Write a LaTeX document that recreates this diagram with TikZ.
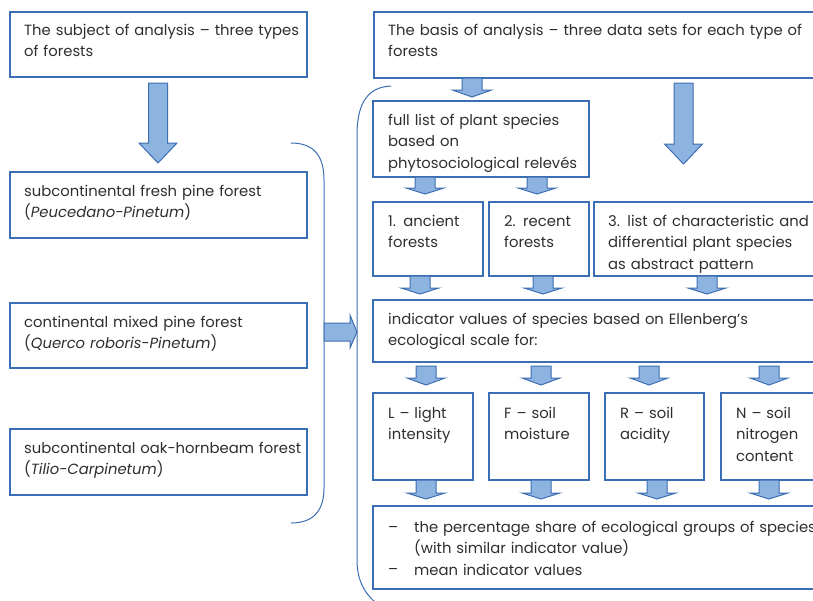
\documentclass[tikz,border=0pt]{standalone}
\usepackage{fontspec}
\setmainfont{Poppins}
\definecolor{boxblue}{HTML}{3A6EB5}
\definecolor{arrfill}{HTML}{8DB3E0}
\definecolor{arredge}{HTML}{3D6EB2}
\definecolor{txt}{HTML}{2E2E2E}
\tikzset{
  boxed/.style={draw=boxblue, line width=1.1pt},
  arr/.style={draw=arredge, fill=arrfill, line width=1pt, line join=miter},
  brk/.style={draw=boxblue, line width=1pt},
  lbl/.style={anchor=base west, inner sep=0pt, text width=460pt, align=left, text=txt,
    font=\fontsize{14.8}{21.5}\selectfont},
}
% block arrow pointing down: centre x, top y, head start y, tip y, half shaft, half head
\newcommand\blockdown[6]{%
  \draw[arr] ({#1-#5},#2) -- ({#1+#5},#2) -- ({#1+#5},#3) -- ({#1+#6},#3) -- (#1,#4)
    -- ({#1-#6},#3) -- ({#1-#5},#3) -- cycle;}
\begin{document}
\begin{tikzpicture}[x=1pt,y=-1pt]
\useasboundingbox (0,0) rectangle (813,600);
\clip (0,0) rectangle (813,600);
% left column
\draw[boxed] (10,12) rectangle (307,77);
\node[lbl] (ta) at (24,35) {The subject of analysis – three types\\of forests};
\blockdown{158}{83}{143}{163}{9.5}{19}
\draw[boxed] (10,172) rectangle (307,238);
\node[lbl] (t1) at (24,196) {subcontinental fresh pine forest\\(\textit{Peucedano-Pinetum})};
\draw[boxed] (10,303) rectangle (307,368);
\node[lbl] (t2) at (24,327) {continental mixed pine forest\\(\textit{Querco roboris-Pinetum})};
\draw[boxed] (10,429) rectangle (307,495);
\node[lbl] (t3) at (24,453) {subcontinental oak-hornbeam forest\\(\textit{Tilio-Carpinetum})};
% left bracket
\draw[brk] (291,143) .. controls (314,143) and (324,156) .. (324,180) -- (324,488)
  .. controls (324,510) and (314,523) .. (291,523);
% right arrow
\draw[arr] (324,323) -- (350,323) -- (350,315) -- (357,332) -- (350,348) -- (350,341) -- (324,341) -- cycle;
% right bracket
\draw[brk] (391,86) .. controls (370,87) and (357,100) .. (357,135) -- (357,560)
  .. controls (357,582) and (366,596) .. (380,606);
% right column
\draw[boxed] (374,12) rectangle (830,78);
\node[lbl] (tb) at (388,35) {The basis of analysis – three data sets for each type of\\forests};
\blockdown{472}{78}{90}{97}{10}{19.5}
\blockdown{683.5}{83}{144}{164}{9.5}{19}
\draw[boxed] (373,101) rectangle (589,177);
\node[lbl] (tf) at (388,125) {full list of plant species\\based on\\phytosociological relevés};
\blockdown{425}{177}{188}{194}{10}{19}
\blockdown{537}{177}{188}{194}{10}{19}
\draw[boxed] (373,202) rectangle (483,276);
\node[lbl] (r1) at (388,226) {1. ancient\\forests};
\draw[boxed] (489,202) rectangle (589,276);
\node[lbl] (r2) at (504,226) {2. recent\\forests};
\draw[boxed] (594,202) rectangle (830,276);
\node[lbl] (r3) at (608,226) {3. list of characteristic and\\differential plant species\\as abstract pattern};
\blockdown{420}{276}{288}{294}{10}{19}
\blockdown{543}{276}{288}{294}{10}{19}
\blockdown{707}{276}{288}{294}{10}{19}
\draw[boxed] (373,300) rectangle (830,362);
\node[lbl] (ti) at (388,324) {indicator values of species based on Ellenberg’s\\ecological scale for:};
\blockdown{426}{366}{378}{385}{10}{19}
\blockdown{541}{366}{378}{385}{10}{19}
\blockdown{649}{366}{378}{385}{10}{19}
\blockdown{769}{366}{378}{385}{10}{19}
\draw[boxed] (373,393) rectangle (473,480);
\node[lbl] (eL) at (388,418) {L – light\\intensity};
\draw[boxed] (489,393) rectangle (589,480);
\node[lbl] (eF) at (504,418) {F – soil\\moisture};
\draw[boxed] (605,393) rectangle (704,480);
\node[lbl] (eR) at (620,418) {R – soil\\acidity};
\draw[boxed] (721,393) rectangle (830,480);
\node[lbl] (eN) at (736,418) {N – soil\\nitrogen\\content};
\blockdown{426}{480}{493}{499}{10}{19}
\blockdown{541}{480}{493}{499}{10}{19}
\blockdown{657}{480}{493}{499}{10}{19}
\blockdown{769}{480}{493}{499}{10}{19}
\draw[boxed] (373,506) rectangle (830,589);
\node[lbl] (d1) at (388,532) {–};
\node[lbl] (d2) at (388,574) {–};
\node[lbl] (tl) at (414,532) {the percentage share of ecological groups of species\\(with similar indicator value)\\mean indicator values};
\end{tikzpicture}
\end{document}
